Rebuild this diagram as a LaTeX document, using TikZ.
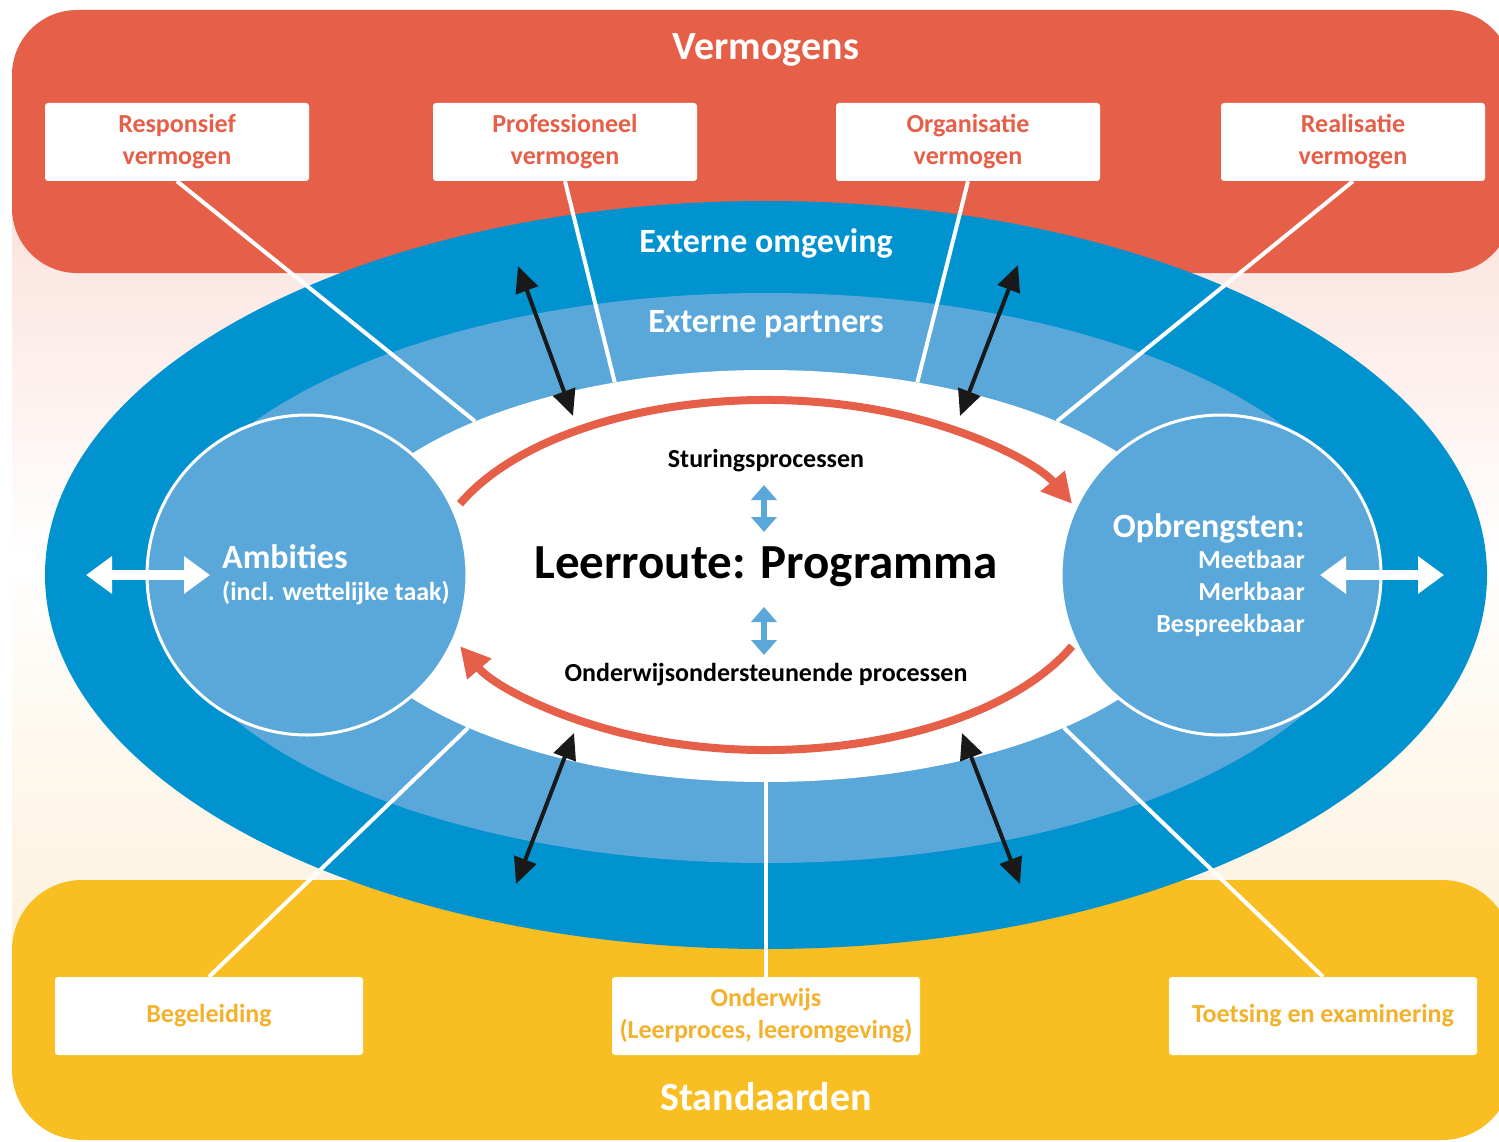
\documentclass[tikz,border=0pt]{standalone}
\usepackage{fontspec}
\setmainfont{Carlito}
\usetikzlibrary{arrows.meta}
\usetikzlibrary{shapes.geometric}

\definecolor{vred}{HTML}{E65F48}
\definecolor{sgold}{HTML}{F9BE22}
\definecolor{stext}{HTML}{F4B12C}
\definecolor{dblue}{HTML}{0093D0}
\definecolor{lblue}{HTML}{5AA8DA}
\definecolor{rpink}{HTML}{FBE2DD}
\definecolor{ycream}{HTML}{FDF1DD}

\begin{document}
\begin{tikzpicture}[x=1pt, y=-1pt]

\tikzstyle{vbox}=[rectangle, minimum width=264, minimum height=78, rounded corners=3pt, fill=white, text=vred, align=center, inner sep=0, font=\fontsize{26}{32}\selectfont\bfseries]
\tikzstyle{sbox}=[rectangle, minimum width=308, minimum height=78, rounded corners=3pt, fill=white, text=stext, align=center, inner sep=0, font=\fontsize{26}{32}\selectfont\bfseries]
\tikzstyle{ring}=[circle, minimum size=320, inner sep=0, fill=lblue, draw=white, line width=3pt]
\tikzstyle{kern}=[ellipse, minimum width=880, minimum height=412, inner sep=0, fill=white]
\tikzstyle{title}=[text=white, inner sep=0, font=\fontsize{40}{40}\selectfont\bfseries]
\tikzstyle{bandtext}=[text=white, inner sep=0, font=\fontsize{34}{34}\selectfont\bfseries]
\tikzstyle{circtext}=[text=white, inner sep=0, font=\fontsize{26}{26}\selectfont\bfseries]
\tikzstyle{proc}=[text=black, inner sep=0, font=\fontsize{26}{26}\selectfont\bfseries]

\tikzstyle{link}=[white, line width=4pt]
\tikzstyle{duo}=[{Triangle[length=26pt, width=23pt]}-{Triangle[length=26pt, width=23pt]}, line width=4pt, black!90]
\tikzstyle{wduo}=[{Triangle[length=26pt, width=36pt]}-{Triangle[length=26pt, width=36pt]}, line width=10pt, white]
\tikzstyle{bduo}=[{Triangle[length=15pt, width=25pt]}-{Triangle[length=15pt, width=25pt]}, line width=6pt, lblue]
\tikzstyle{flow}=[-{Triangle[length=30pt, width=30pt]}, line width=8pt, vred]

\useasboundingbox (0,0) rectangle (1499,1142);
\fill[white] (0,0) rectangle (1499,1142);
\shade[top color=rpink, bottom color=white] (12,200) rectangle (1499,560);
\shade[top color=white, bottom color=ycream] (12,560) rectangle (1499,950);

% bands
\fill[vred, rounded corners=65pt] (12,10) rectangle (1512,273);
\fill[sgold, rounded corners=70pt] (12,880) rectangle (1512,1140);

% rings
\fill[dblue] (766,575) ellipse [x radius=721, y radius=374];
\fill[lblue] (766,578) ellipse [x radius=612, y radius=285];
\node[kern] (kern) at (766,576) {};
\node[ring] (amb) at (307,575) {};
\node[ring] (opb) at (1221,575) {};

\node[title] (verm) at (766,50) {Vermogens};
\node[title] (stand) at (766,1097) {Standaarden};
\node[bandtext] (omg) at (766,243) {Externe omgeving};
\node[bandtext] (partn) at (766,324) {Externe partners};

\node[vbox] (resp) at (177,142) {Responsief\\vermogen};
\node[vbox] (prof) at (565,142) {Professioneel\\vermogen};
\node[vbox] (orga) at (968,142) {Organisatie\\vermogen};
\node[vbox] (real) at (1353,142) {Realisatie\\vermogen};

\node[sbox] (begl) at (209,1016) {Begeleiding};
\node[sbox] (ondw) at (766,1016) {Onderwijs\\(Leerproces, leeromgeving)};
\node[sbox] (toets) at (1323,1016) {Toetsing en examinering};

\draw[link] (resp.south) -- (kern.152);
\draw[link] (prof.south) -- (kern.128);
\draw[link] (orga.south) -- (kern.52);
\draw[link] (real.south) -- (kern.28);
\draw[link] (begl.north) -- (kern.207);
\draw[link] (ondw.north) -- (kern.270);
\draw[link] (toets.north) -- (kern.333);

% centre
\node[proc] (stur) at (766,461) {Sturingsprocessen};
\node[proc] (ondst) at (766,675) {Onderwijsondersteunende processen};
\node[text=black, inner sep=0, font=\fontsize{49}{49}\selectfont\bfseries] (leer) at (766,567) {Leerroute: Programma};

\coordinate (b1) at (764,485);
\coordinate (b2) at (764,532);
\coordinate (b3) at (764,607);
\coordinate (b4) at (764,655);
\draw[bduo] (b1) -- (b2);
\draw[bduo] (b3) -- (b4);

\draw[flow] (766,575) ++(-156:335 and 175) arc[start angle=-156, end angle=-24, x radius=335, y radius=175];
\draw[flow] (766,575) ++(24:335 and 175) arc[start angle=24, end angle=156, x radius=335, y radius=175];

% circle texts
\node[bandtext, anchor=base west] (ambt) at (222,568) {Ambities};
\node[circtext, anchor=base west] (ambs) at (222,600) {(incl. wettelijke taak)};
\node[bandtext, anchor=base east] (opbt) at (1305,537) {Opbrengsten:};
\node[circtext, anchor=base east] (opb1) at (1305,568) {Meetbaar};
\node[circtext, anchor=base east] (opb2) at (1305,600) {Merkbaar};
\node[circtext, anchor=base east] (opb3) at (1305,632) {Bespreekbaar};

\coordinate (wl1) at (86,575);
\coordinate (wl2) at (210,575);
\coordinate (wr1) at (1320,575);
\coordinate (wr2) at (1444,575);
\draw[wduo] (wl1) -- (wl2);
\draw[wduo] (wr1) -- (wr2);

% black arrows
\coordinate (pa1) at (518,266);
\coordinate (pa2) at (573,416);
\coordinate (pb1) at (1018,265);
\coordinate (pb2) at (960,416);
\coordinate (pc1) at (574,733);
\coordinate (pc2) at (516,884);
\coordinate (pd1) at (962,733);
\coordinate (pd2) at (1020,884);
\draw[duo] (pa1) -- (pa2);
\draw[duo] (pb1) -- (pb2);
\draw[duo] (pc1) -- (pc2);
\draw[duo] (pd1) -- (pd2);

\end{tikzpicture}
\end{document}
